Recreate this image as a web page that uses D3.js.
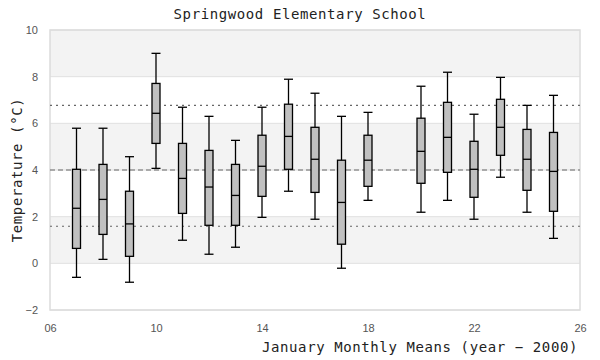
<!DOCTYPE html>
<html>
<head>
<meta charset="utf-8">
<script src="https://cdn.jsdelivr.net/npm/d3@7"></script>
<style>
  body { margin: 0; background: #fff; }
</style>
</head>
<body>
<div id="chart"></div>
<script>
// January means, one box per year (year - 2000); 19 has no data
const years   = [7, 8, 9, 10, 11, 12, 13, 14, 15, 16, 17, 18, 20, 21, 22, 23, 24, 25];
const whiskLo = [-0.6, 0.17, -0.81, 4.07, 0.99, 0.39, 0.69, 1.97, 3.09, 1.89, -0.21, 2.70, 2.19, 2.70, 1.89, 3.69, 2.19, 1.07];
const q1      = [0.64, 1.24, 0.30, 5.14, 2.14, 1.63, 1.63, 2.87, 4.03, 3.04, 0.82, 3.30, 3.43, 3.90, 2.83, 4.63, 3.13, 2.23];
const median  = [2.36, 2.74, 1.69, 6.43, 3.64, 3.27, 2.91, 4.16, 5.44, 4.46, 2.61, 4.42, 4.80, 5.40, 4.03, 5.83, 4.46, 3.94];
const q3      = [4.03, 4.24, 3.09, 7.71, 5.14, 4.84, 4.24, 5.49, 6.82, 5.83, 4.42, 5.49, 6.22, 6.90, 5.23, 7.03, 5.74, 5.61];
const whiskHi = [5.79, 5.79, 4.57, 9.00, 6.69, 6.30, 5.27, 6.69, 7.89, 7.29, 6.30, 6.47, 7.59, 8.19, 6.39, 7.97, 6.77, 7.20];

const xTicks = [6, 10, 14, 18, 22, 26];
const yTicks = [-2, 0, 2, 4, 6, 8, 10];
const meanLine = 4.0;
const sdLines = [6.77, 1.59];

const width = 600, height = 360;
const margin = { top: 30, right: 20, bottom: 50, left: 50 };

const svg = d3.select("#chart").append("svg")
  .attr("width", width)
  .attr("height", height);

const x = d3.scaleLinear().domain([6, 26]).range([margin.left, width - margin.right]);
const y = d3.scaleLinear().domain([-2, 10]).range([height - margin.bottom, margin.top]);

const mono = "'DejaVu Sans Mono', 'Liberation Mono', monospace";

// alternating bands, grey on top
for (let i = 0; i < yTicks.length - 1; i++) {
  const lo = yTicks[i], hi = yTicks[i + 1];
  const fromTop = (yTicks.length - 2) - i;
  svg.append("rect")
    .attr("x", x(6))
    .attr("y", y(hi))
    .attr("width", x(26) - x(6))
    .attr("height", y(lo) - y(hi))
    .attr("fill", fromTop % 2 === 0 ? "#f3f3f3" : "#ffffff");
}

// grid lines
svg.selectAll(".grid")
  .data(yTicks)
  .enter()
  .append("line")
  .attr("x1", x(6))
  .attr("x2", x(26))
  .attr("y1", d => y(d))
  .attr("y2", d => y(d))
  .attr("stroke", "#e0e0e0")
  .attr("stroke-width", 1);

// frame
svg.append("rect")
  .attr("x", x(6))
  .attr("y", y(10))
  .attr("width", x(26) - x(6))
  .attr("height", y(-2) - y(10))
  .attr("fill", "none")
  .attr("stroke", "#dcdcdc")
  .attr("stroke-width", 1.5);

// reference lines
svg.append("line")
  .attr("x1", x(6)).attr("x2", x(26))
  .attr("y1", y(meanLine)).attr("y2", y(meanLine))
  .attr("stroke", "#666")
  .attr("stroke-width", 1.2)
  .attr("stroke-dasharray", "5,3");

svg.selectAll(".sd")
  .data(sdLines)
  .enter()
  .append("line")
  .attr("x1", x(6)).attr("x2", x(26))
  .attr("y1", d => y(d)).attr("y2", d => y(d))
  .attr("stroke", "#666")
  .attr("stroke-width", 1.2)
  .attr("stroke-dasharray", "2,4");

// boxes
const boxW = 8, capW = 9;
const g = svg.selectAll(".box")
  .data(years.map((yr, i) => ({ yr, lo: whiskLo[i], q1: q1[i], med: median[i], q3: q3[i], hi: whiskHi[i] })))
  .enter()
  .append("g");

g.append("line")
  .attr("x1", d => x(d.yr)).attr("x2", d => x(d.yr))
  .attr("y1", d => y(d.hi)).attr("y2", d => y(d.lo))
  .attr("stroke", "#000").attr("stroke-width", 1.3);

g.append("line")
  .attr("x1", d => x(d.yr) - capW / 2).attr("x2", d => x(d.yr) + capW / 2)
  .attr("y1", d => y(d.hi)).attr("y2", d => y(d.hi))
  .attr("stroke", "#000").attr("stroke-width", 1.3);

g.append("line")
  .attr("x1", d => x(d.yr) - capW / 2).attr("x2", d => x(d.yr) + capW / 2)
  .attr("y1", d => y(d.lo)).attr("y2", d => y(d.lo))
  .attr("stroke", "#000").attr("stroke-width", 1.3);

g.append("rect")
  .attr("x", d => x(d.yr) - boxW / 2)
  .attr("y", d => y(d.q3))
  .attr("width", boxW)
  .attr("height", d => y(d.q1) - y(d.q3))
  .attr("fill", "#c0c0c0")
  .attr("stroke", "#000")
  .attr("stroke-width", 1.3);

g.append("line")
  .attr("x1", d => x(d.yr) - boxW / 2).attr("x2", d => x(d.yr) + boxW / 2)
  .attr("y1", d => y(d.med)).attr("y2", d => y(d.med))
  .attr("stroke", "#000").attr("stroke-width", 1.3);

// axes (labels only)
const yAxis = svg.append("g")
  .attr("transform", "translate(" + (margin.left - 12) + ",0)")
  .call(d3.axisLeft(y).tickValues(yTicks).tickSize(0).tickPadding(0));
const xAxis = svg.append("g")
  .attr("transform", "translate(0," + (height - margin.bottom + 8) + ")")
  .call(d3.axisBottom(x).tickValues(xTicks).tickSize(0).tickPadding(6).tickFormat(d3.format("02d")));
[yAxis, xAxis].forEach(a => {
  a.select(".domain").remove();
  a.selectAll("text")
    .attr("fill", "#555")
    .style("font-family", "'Liberation Sans', Arial, sans-serif")
    .style("font-size", "11px");
});

// titles
svg.append("text")
  .attr("x", width / 2)
  .attr("y", 19)
  .attr("text-anchor", "middle")
  .style("font-family", mono)
  .style("font-size", "14px")
  .style("letter-spacing", "0.6px")
  .attr("fill", "#222")
  .text("Springwood Elementary School");

svg.append("text")
  .attr("x", x(26) - 2)
  .attr("y", 352)
  .attr("text-anchor", "end")
  .style("font-family", mono)
  .style("font-size", "14px")
  .style("letter-spacing", "0.6px")
  .attr("fill", "#222")
  .text("January Monthly Means (year \u2212 2000)");

svg.append("text")
  .attr("transform", "translate(22," + y(4) + ") rotate(-90)")
  .attr("text-anchor", "middle")
  .style("font-family", mono)
  .style("font-size", "14px")
  .style("letter-spacing", "0.6px")
  .attr("fill", "#222")
  .text("Temperature (\u00b0C)");
</script>
</body>
</html>
